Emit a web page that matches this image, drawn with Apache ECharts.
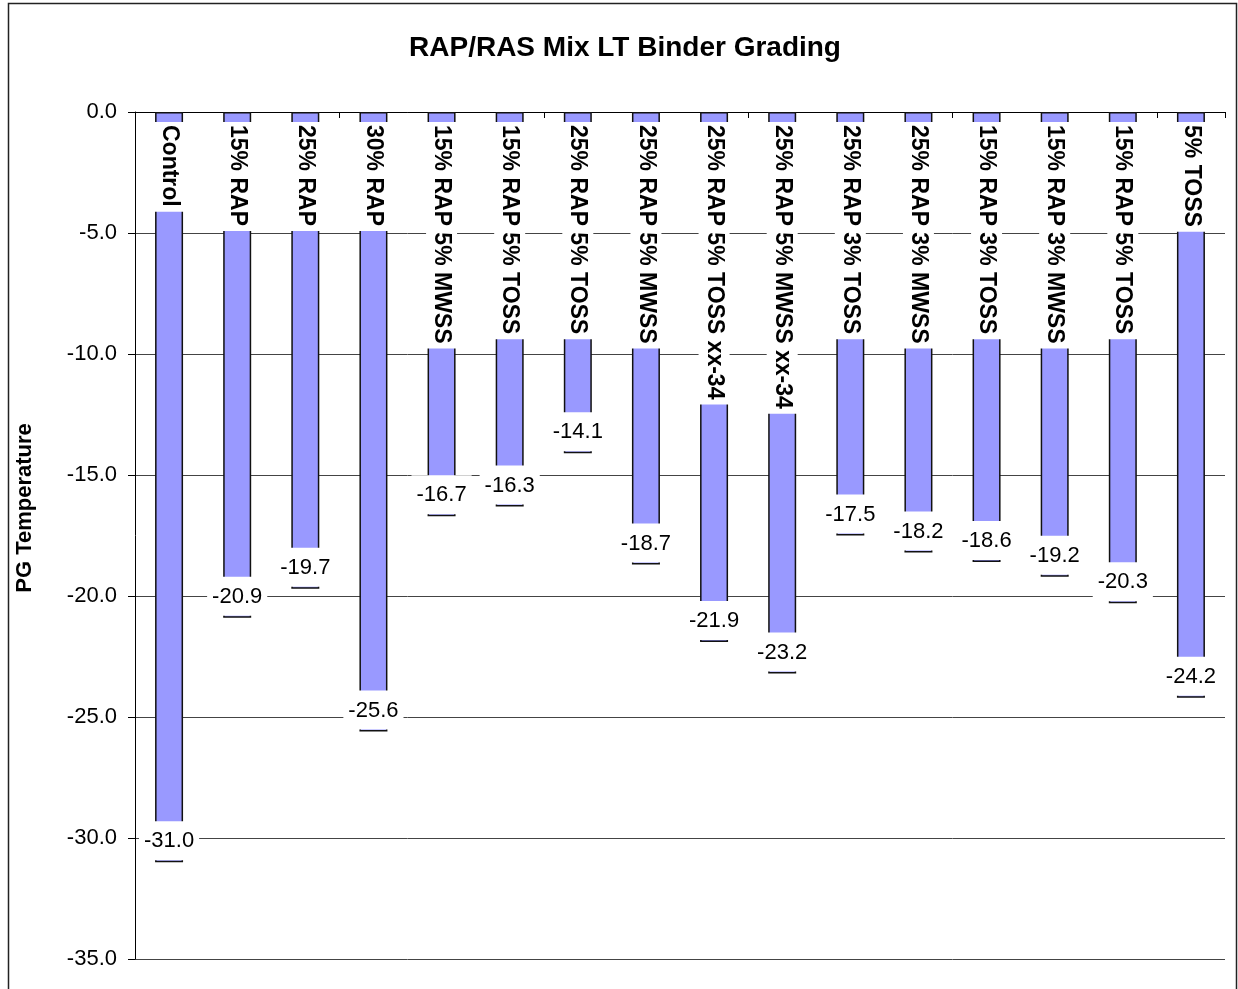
<!DOCTYPE html>
<html>
<head>
<meta charset="utf-8">
<script src="https://cdn.jsdelivr.net/npm/echarts@6/dist/echarts.min.js"></script>
<style>
  html, body { margin: 0; padding: 0; background: #fff; }
  #chart { width: 1238px; height: 989px; }
</style>
</head>
<body>
<div id="chart"></div>
<script>
// blends and their PG low temperature grade
var categories = ['Control', '15% RAP', '25% RAP', '30% RAP', '15% RAP 5% MWSS', '15% RAP 5% TOSS',
  '25% RAP 5% TOSS', '25% RAP 5% MWSS', '25% RAP 5% TOSS xx-34', '25% RAP 5% MWSS xx-34',
  '25% RAP 3% TOSS', '25% RAP 3% MWSS', '15% RAP 3% TOSS', '15% RAP 3% MWSS', '15% RAP 5% TOSS', '5% TOSS'];
var pgTemps = [-31.0, -20.9, -19.7, -25.6, -16.7, -16.3, -14.1, -18.7, -21.9, -23.2, -17.5, -18.2, -18.6, -19.2, -20.3, -24.2];

var font = "'Liberation Sans', Arial, sans-serif";
var chart = echarts.init(document.getElementById('chart'));

var option = {
  backgroundColor: '#fff',
  animation: false,
  title: {
    text: 'RAP/RAS Mix LT Binder Grading',
    left: 620,
    top: 29,
    textAlign: 'center',
    textStyle: { fontFamily: font, fontSize: 28, fontWeight: 'bold', color: '#000' }
  },
  graphic: [{
    type: 'rect',
    shape: { x: 8.5, y: 3.5, width: 1228, height: 1010 },
    style: { fill: 'none', stroke: '#222', lineWidth: 1.5 },
    silent: true
  }, {
    // axis title sits a bit above the plot middle, like the original
    type: 'text',
    x: 25,
    y: 508,
    rotation: Math.PI / 2,
    style: {
      text: 'PG Temperature',
      fontFamily: font,
      fontSize: 22,
      fontWeight: 'bold',
      fill: '#000',
      align: 'center',
      verticalAlign: 'middle'
    },
    silent: true
  }],
  grid: { left: 135, right: 13, top: 112, bottom: 30 },
  xAxis: {
    type: 'category',
    position: 'top',
    data: categories,
    axisLine: { lineStyle: { color: '#000', width: 1 } },
    axisTick: { show: true, inside: true, length: 6, lineStyle: { color: '#000' } },
    axisLabel: { show: false },
    splitLine: { show: false }
  },
  yAxis: {
    type: 'value',
    min: -35,
    max: 0,
    interval: 5,
    axisLine: { show: true, lineStyle: { color: '#000', width: 1 } },
    axisTick: { show: true, length: 7, lineStyle: { color: '#000' } },
    axisLabel: {
      margin: 18,
      fontFamily: font,
      fontSize: 22,
      color: '#000',
      formatter: function (v) { return v.toFixed(1); }
    },
    splitLine: { show: true, lineStyle: { color: '#444', width: 1 } }
  },
  series: [{
    name: 'PG',
    type: 'bar',
    data: pgTemps,
    barWidth: 28,
    barGap: '-100%',
    itemStyle: { color: '#9999ff', borderColor: '#111', borderWidth: 1.5 },
    label: {
      show: true,
      position: 'insideTop',
      distance: 10,
      rotate: -90,
      align: 'left',
      verticalAlign: 'middle',
      fontFamily: font,
      fontSize: 23,
      fontWeight: 'bold',
      color: '#000',
      lineHeight: 27,
      backgroundColor: '#fff',
      padding: [2, 5, 2, 3],
      formatter: function (p) { return categories[p.dataIndex]; }
    }
  }, {
    name: 'PG value',
    type: 'bar',
    data: pgTemps,
    barWidth: 28,
    barGap: '-100%',
    itemStyle: { color: 'rgba(0,0,0,0)', borderWidth: 0 },
    label: {
      show: true,
      position: 'insideBottom',
      distance: 2,
      fontFamily: font,
      fontSize: 22,
      color: '#000',
      lineHeight: 24,
      backgroundColor: '#fff',
      padding: [8, 5, 7, 5],
      formatter: function (p) { return p.value.toFixed(1); }
    }
  }]
};

chart.setOption(option);
</script>
</body>
</html>
